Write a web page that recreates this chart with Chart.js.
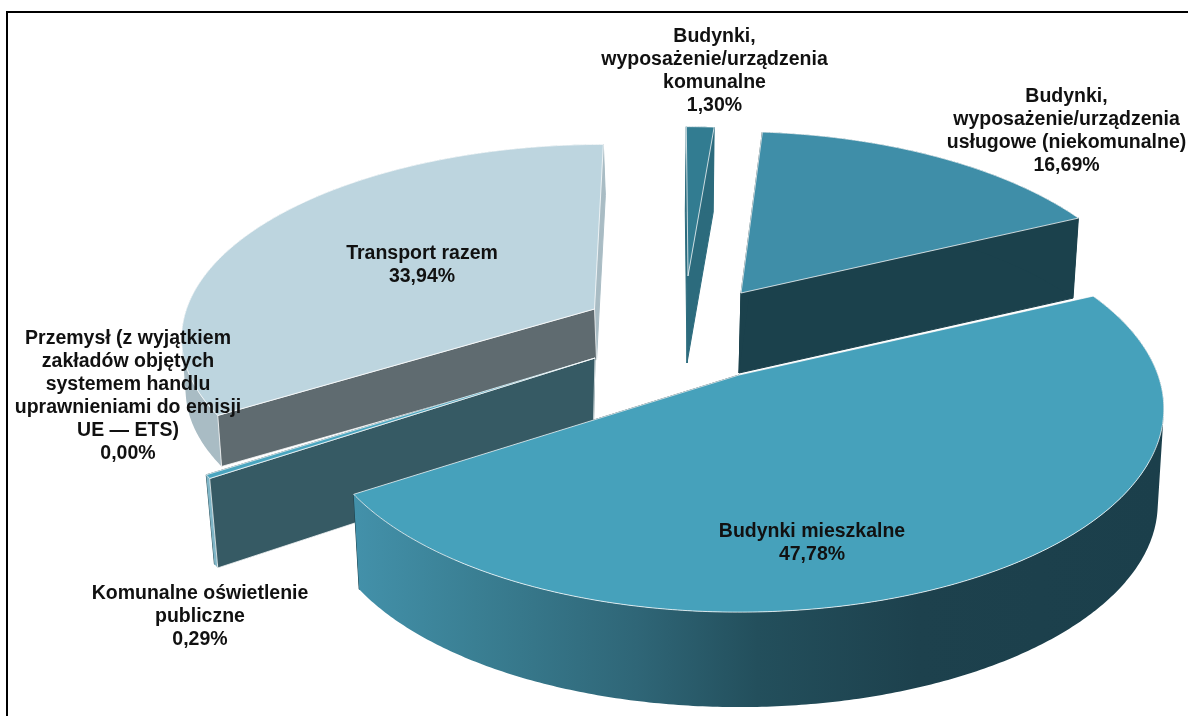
<!DOCTYPE html>
<html>
<head>
<meta charset="utf-8">
<title>Emisje</title>
<script src="https://cdn.jsdelivr.net/npm/chart.js@4/dist/chart.umd.min.js"></script>
<style>
	html, body { margin: 0; padding: 0; background: #fff; overflow: hidden; }
	#frame { position: absolute; left: 6px; top: 11px; right: 0; bottom: 0; border-top: 2px solid #000; border-left: 2px solid #000; }
	#pie { position: absolute; left: 0; top: 0; }
</style>
</head>
<body>
<canvas id="pie" width="1188" height="716"></canvas>
<div id="frame"></div>
<script>
var categories = [
	["Budynki,", "wyposażenie/urządzenia", "komunalne"],
	["Budynki,", "wyposażenie/urządzenia", "usługowe (niekomunalne)"],
	["Budynki mieszkalne"],
	["Komunalne oświetlenie", "publiczne"],
	["Przemysł (z wyjątkiem", "zakładów objętych", "systemem handlu", "uprawnieniami do emisji", "UE — ETS)"],
	["Transport razem"]
];
var shares = [1.30, 16.69, 47.78, 0.29, 0.00, 33.94];

var topColors = ["#327c91", "#3f8ea8", "#46a1bb", "#4aa5bf", "#c0c0c0", "#bdd5df"];
var startFaceColors = ["#2c6b7d", "#1b414c", "#1b414c", "#365a64", "#c0c0c0", "#5f6b70"];
var endFaceColors = ["#2c6b7d", "#1b414c", "#1b414c", "#365a64", "#c0c0c0", "#a9bcc4"];
var rimColors = ["#2c6b7d", "#1b414c", null, "#7fb5c6", "#c0c0c0", "#a9bcc4"];

var edgeColor = "rgba(255,255,255,0.75)";
var startFaceEdges = ["#2c6b7d", "#1b414c", edgeColor, edgeColor, edgeColor, edgeColor];

// back to front
var drawOrder = [0, 1, 5, 4, 3, 2];

// one perspective disc for the top of every slice and one for its bottom
var topDiscs = [
	{ x: 688, y: 276, a: 398, b: 174, s: 2, k: 0.165 },
	{ x: 741, y: 293, a: 403, b: 188, s: 8, k: 0.165 },
	{ x: 739, y: 375, a: 419, b: 198, s: 0, k: 0.165 },
	{ x: 595, y: 358, a: 419, b: 200, s: 0, k: 0.165 },
	{ x: 595, y: 358, a: 419, b: 200, s: 0, k: 0.165 },
	{ x: 594.5, y: 309, a: 408, b: 186, s: -10, k: 0.13 }
];
var bottomDiscs = [
	{ x: 687, y: 363, a: 398, b: 176, s: 2, k: 0.165 },
	{ x: 739, y: 373, a: 399, b: 188, s: 8, k: 0.165 },
	{ x: 739, y: 470, a: 413, b: 198, s: 0, k: 0.165 },
	{ x: 593, y: 445, a: 408, b: 204, s: 0, k: 0.165 },
	{ x: 593, y: 445, a: 408, b: 204, s: 0, k: 0.165 },
	{ x: 596.5, y: 360, a: 406, b: 186, s: -10, k: 0.13 }
];

var labelCenters = [714.5, 1066.5, 812, 200, 128, 422];
var labelTops = [37, 97, 532, 594, 339, 254];
var labelLineHeight = 23;

function project(disc, angle, r) {
	var u = r * Math.cos(angle);
	var v = r * Math.sin(angle);
	var w = 1 - disc.k * v;
	return { x: disc.x + (disc.a * u + disc.s * v) / w, y: disc.y + disc.b * v / w };
}

function rimPoints(disc, start, end) {
	var steps = Math.max(2, Math.ceil((end - start) / 0.01));
	var points = [];
	for (var i = 0; i <= steps; i++) {
		points.push(project(disc, start + (end - start) * i / steps, 1));
	}
	return points;
}

function tracePolygon(ctx, points) {
	points.forEach(function (p, i) {
		if (i === 0) ctx.moveTo(p.x, p.y);
		else ctx.lineTo(p.x, p.y);
	});
	ctx.closePath();
}

function fillPath(ctx, points, fill, edge) {
	ctx.beginPath();
	tracePolygon(ctx, points);
	ctx.fillStyle = fill;
	ctx.fill();
	ctx.lineWidth = 1;
	ctx.strokeStyle = edge;
	ctx.stroke();
}

function signedArea(points) {
	var area = 0;
	points.forEach(function (p, i) {
		var q = points[(i + 1) % points.length];
		area += p.x * q.y - q.x * p.y;
	});
	return area;
}

// all the quads go in one path, so there are no seams between them
function fillRim(ctx, topRim, bottomRim, fill) {
	ctx.beginPath();
	for (var i = 0; i < topRim.length - 1; i++) {
		var quad = [topRim[i], topRim[i + 1], bottomRim[i + 1], bottomRim[i]];
		if (signedArea(quad) < 0) quad.reverse();
		tracePolygon(ctx, quad);
	}
	ctx.fillStyle = fill;
	ctx.fill();
}

function bigRimGradient(ctx) {
	var gradient = ctx.createLinearGradient(354, 0, 1161, 0);
	gradient.addColorStop(0, "#4391aa");
	gradient.addColorStop(0.15, "#3a7f93");
	gradient.addColorStop(0.35, "#2f6677");
	gradient.addColorStop(0.5, "#234f5c");
	gradient.addColorStop(0.7, "#1d414d");
	gradient.addColorStop(1, "#1b3f4b");
	return gradient;
}

function drawSlice(ctx, arc, index) {
	var start = arc.startAngle;
	var end = arc.endAngle;
	if (end - start <= 0) return;
	var top = topDiscs[index];
	var bottom = bottomDiscs[index];

	var topApex = project(top, 0, 0);
	var bottomApex = project(bottom, 0, 0);
	var topRim = rimPoints(top, start, end);
	var bottomRim = rimPoints(bottom, start, end);
	var last = topRim.length - 1;

	fillPath(ctx, [topApex, topRim[last], bottomRim[last], bottomApex], endFaceColors[index], endFaceColors[index]);
	fillRim(ctx, topRim, bottomRim, rimColors[index] || bigRimGradient(ctx));
	fillPath(ctx, [topApex, topRim[0], bottomRim[0], bottomApex], startFaceColors[index], startFaceEdges[index]);
	fillPath(ctx, [topApex].concat(topRim), topColors[index], edgeColor);
}

var sliceDrawer = {
	id: "sliceDrawer",
	beforeDatasetDraw: function (chart) {
		var arcs = chart.getDatasetMeta(0).data;
		drawOrder.forEach(function (index) {
			drawSlice(chart.ctx, arcs[index], index);
		});
		return false;
	},
	afterDraw: function (chart) {
		var ctx = chart.ctx;
		ctx.save();
		ctx.font = "bold 19.5px 'Liberation Sans', Arial, sans-serif";
		ctx.fillStyle = "#111";
		ctx.textAlign = "center";
		ctx.textBaseline = "middle";
		categories.forEach(function (lines, i) {
			var allLines = lines.concat(shares[i].toFixed(2).replace(".", ",") + "%");
			allLines.forEach(function (line, j) {
				ctx.fillText(line, labelCenters[i], labelTops[i] + j * labelLineHeight);
			});
		});
		ctx.restore();
	}
};

new Chart(document.getElementById("pie"), {
	type: "pie",
	data: {
		labels: categories,
		datasets: [{ data: shares, backgroundColor: topColors, borderWidth: 0 }]
	},
	options: {
		responsive: false,
		animation: false,
		events: [],
		plugins: { legend: { display: false }, tooltip: { enabled: false } }
	},
	plugins: [sliceDrawer]
});
</script>
</body>
</html>
